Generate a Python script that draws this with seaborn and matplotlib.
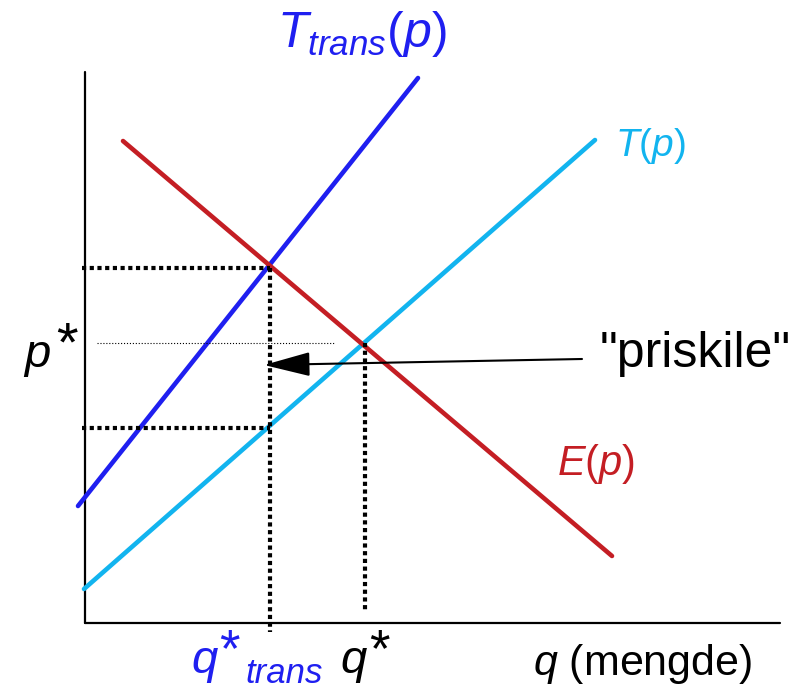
import pandas as pd
import matplotlib
matplotlib.use("Agg")
import matplotlib.pyplot as plt
import seaborn as sb

# curves (q, p), q = quantity, p = price
curve_names = ['T_trans', 'T', 'E']
q_trans_line = [-7, 333]
p_trans_line = [116, 544]
q_supply = [-1, 510]
p_supply = [33, 482]
q_demand = [38, 527]
p_demand = [481, 66]

# equilibrium values
q_star = 280
p_star = 279
q_star_trans = 185
p_buyer = 354
p_seller = 194

colors = {'T_trans': '#1f1ff0', 'T': '#12b4ef', 'E': '#c41e24'}

df = pd.DataFrame({
    'q': q_trans_line + q_supply + q_demand,
    'p': p_trans_line + p_supply + p_demand,
    'curve': ['T_trans'] * 2 + ['T'] * 2 + ['E'] * 2,
})

sb.set_theme(style='white')
plt.rcParams['font.family'] = ['Liberation Sans', 'DejaVu Sans']
plt.rcParams['mathtext.fontset'] = 'custom'
plt.rcParams['mathtext.it'] = 'Liberation Sans:italic'
plt.rcParams['mathtext.rm'] = 'Liberation Sans'
plt.rcParams['mathtext.sf'] = 'Liberation Sans'

fig = plt.figure(figsize=(8.08, 6.90), dpi=100)
ax = fig.add_axes([0, 0, 1, 1])

# axes of the diagram
ax.plot([0, 0], [-1, 550], color='black', lw=1.6)
ax.plot([0, 695], [-1, -1], color='black', lw=1.6)

sb.lineplot(data=df, x='q', y='p', hue='curve', palette=colors, ax=ax,
            legend=False, linewidth=3.3, sort=False, estimator=None, units='curve')
for l in ax.lines[2:]:
    l.set_solid_capstyle('round')

# dotted guide lines
dots = dict(color='black', lw=3, dashes=(1, 0.85))
ax.plot([-3, q_star_trans], [p_buyer, p_buyer], **dots)
ax.plot([-3, q_star_trans], [p_seller, p_seller], **dots)
ax.plot([q_star_trans, q_star_trans], [p_buyer, -10], **dots)
ax.plot([q_star, q_star], [p_star, 10], **dots)
ax.plot([12, 250], [p_star, p_star], color='black', lw=0.8, ls=':')

# arrow to the price wedge
ax.annotate('', xy=(179, 257), xytext=(497, 263),
            arrowprops=dict(arrowstyle='-|>,head_length=2.9,head_width=0.76',
                            mutation_scale=10, color='black', lw=1.5,
                            shrinkA=0, shrinkB=0))

ax.text(192, 575, r'$T_{trans}(p)$', color=colors['T_trans'], fontsize=36, va='baseline')
ax.text(530, 466, r'$T(p)$', color=colors['T'], fontsize=28, va='baseline')
ax.text(472, 147, r'$E(p)$', color=colors['E'], fontsize=30, va='baseline')
ax.text(515, 255, '"priskile"', color='black', fontsize=36, va='baseline')

# labels with a larger star, as in the original
ax.text(-62, 255, '$p$', color='black', fontsize=34, va='baseline')
ax.text(-29, 262, '*', color='black', fontsize=40, va='baseline')
ax.text(106, -51, '$q$', color=colors['T_trans'], fontsize=34, va='baseline')
ax.text(134, -44, '*', color=colors['T_trans'], fontsize=38, va='baseline')
ax.text(160, -61, 'trans', color=colors['T_trans'], fontsize=25, style='italic', va='baseline')
ax.text(255, -51, '$q$', color='black', fontsize=34, va='baseline')
ax.text(284, -44, '*', color='black', fontsize=38, va='baseline')
ax.text(448, -53, '$q$ (mengde)', color='black', fontsize=31, va='baseline')

ax.set_xlim(-85, 723)
ax.set_ylim(-68, 622)
ax.axis('off')

plt.savefig('out.png', dpi=100)
